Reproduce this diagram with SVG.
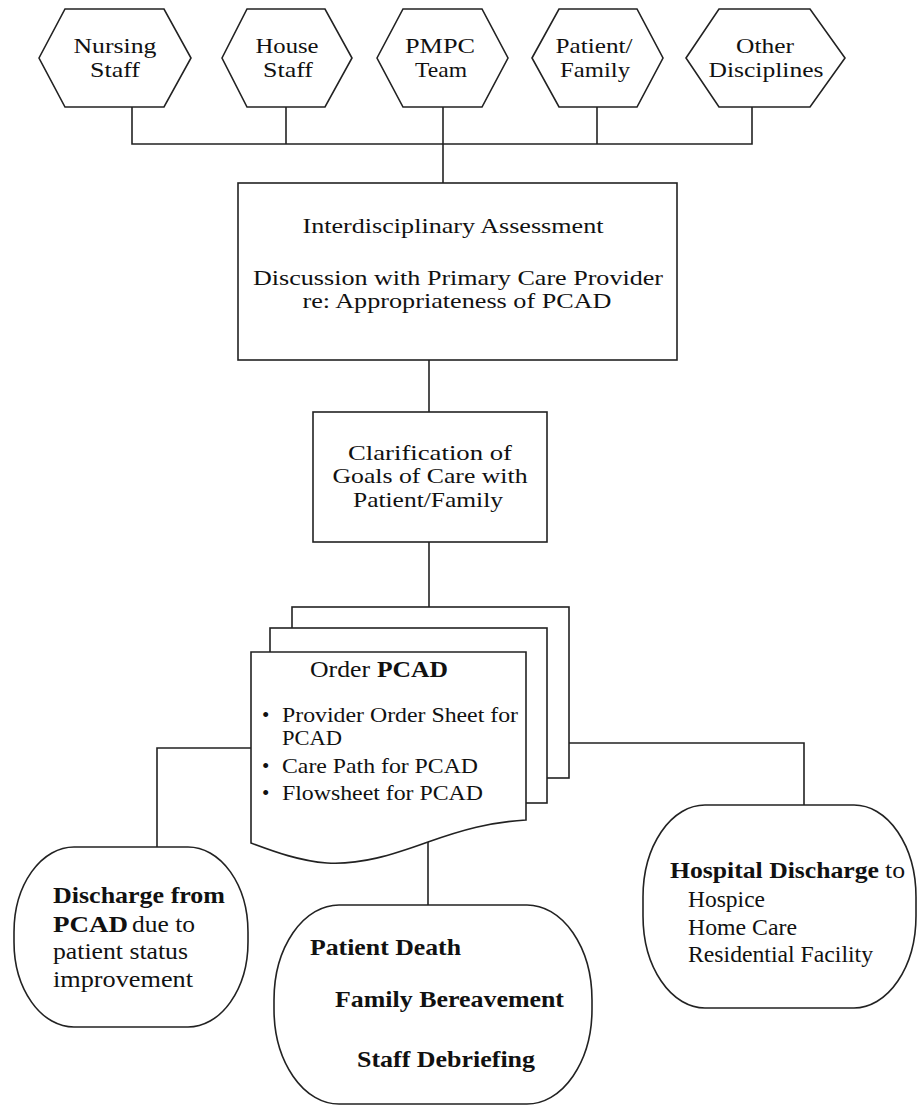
<svg xmlns="http://www.w3.org/2000/svg" width="917" height="1106" viewBox="0 0 917 1106">
<style>
.s{fill:#fff;stroke:#222;stroke-width:1.6}
.c{fill:none;stroke:#222;stroke-width:1.6}
text{font-family:"Liberation Serif","Times New Roman",serif;font-size:21px;fill:#111}
.m{text-anchor:middle}
.b{font-weight:bold}
.l{font-size:24px}
</style>
<rect width="917" height="1106" fill="#fff"/>
<g id="connectors">
<polyline class="c" points="132,107 132,144 752,144 752,107"/>
<line class="c" x1="286" y1="107" x2="286" y2="144"/>
<line class="c" x1="597" y1="107" x2="597" y2="144"/>
<line class="c" x1="443" y1="107" x2="443" y2="183"/>
<line class="c" x1="429" y1="360" x2="429" y2="412"/>
<line class="c" x1="429" y1="542" x2="429" y2="607"/>
<polyline class="c" points="251,748 157,748 157,847"/>
<polyline class="c" points="569,743 804,743 804,805"/>
<line class="c" x1="428" y1="842" x2="428" y2="905"/>
</g>
<g id="nursing">
<polygon class="s" points="39,58 65,9 164,9 191,58 164,107 65,107"/>
<text class="m" x="115" y="53" textLength="83" lengthAdjust="spacingAndGlyphs">Nursing</text>
<text class="m" x="115" y="77" textLength="50" lengthAdjust="spacingAndGlyphs">Staff</text>
</g>
<g id="house">
<polygon class="s" points="222,58 247,9 325,9 352,58 325,107 247,107"/>
<text class="m" x="287" y="53" textLength="63" lengthAdjust="spacingAndGlyphs">House</text>
<text class="m" x="288" y="77" textLength="50" lengthAdjust="spacingAndGlyphs">Staff</text>
</g>
<g id="pmpc">
<polygon class="s" points="377,58 403,9 482,9 508,58 482,107 403,107"/>
<text class="m" x="440" y="53" textLength="70" lengthAdjust="spacingAndGlyphs">PMPC</text>
<text class="m" x="441" y="77" textLength="52" lengthAdjust="spacingAndGlyphs">Team</text>
</g>
<g id="patientfamily">
<polygon class="s" points="532,58 559,9 637,9 663,58 637,107 559,107"/>
<text class="m" x="594" y="53" textLength="77" lengthAdjust="spacingAndGlyphs">Patient/</text>
<text class="m" x="595" y="77" textLength="70" lengthAdjust="spacingAndGlyphs">Family</text>
</g>
<g id="other">
<polygon class="s" points="686,58 719,9 810,9 845,58 810,107 719,107"/>
<text class="m" x="765" y="53" textLength="58" lengthAdjust="spacingAndGlyphs">Other</text>
<text class="m" x="766" y="77" textLength="115" lengthAdjust="spacingAndGlyphs">Disciplines</text>
</g>
<g id="assessment">
<rect class="s" x="238" y="183" width="439" height="177"/>
<text class="m" x="453" y="233" textLength="301" lengthAdjust="spacingAndGlyphs">Interdisciplinary Assessment</text>
<text class="m" x="458" y="285" textLength="410" lengthAdjust="spacingAndGlyphs">Discussion with Primary Care Provider</text>
<text class="m" x="457" y="308" textLength="309" lengthAdjust="spacingAndGlyphs">re: Appropriateness of PCAD</text>
</g>
<g id="clarification">
<rect class="s" x="313" y="412" width="234" height="130"/>
<text class="m" x="430" y="460" textLength="164" lengthAdjust="spacingAndGlyphs">Clarification of</text>
<text class="m" x="430" y="483" textLength="195" lengthAdjust="spacingAndGlyphs">Goals of Care with</text>
<text class="m" x="428" y="507" textLength="150" lengthAdjust="spacingAndGlyphs">Patient/Family</text>
</g>
<g id="order">
<rect class="s" x="292" y="607" width="277" height="171"/>
<rect class="s" x="270" y="628" width="277" height="175"/>
<path class="s" d="M251,652 L526,652 L526,820 C490,822 462,830 428,842 C392,855 360,865 327,863 C300,861 275,852 251,843 Z"/>
<text class="l" y="677"><tspan x="310" textLength="60" lengthAdjust="spacingAndGlyphs">Order</tspan> <tspan class="b" x="377" textLength="71" lengthAdjust="spacingAndGlyphs">PCAD</tspan></text>
<text x="262" y="722">•</text>
<text x="282" y="722" textLength="236" lengthAdjust="spacingAndGlyphs">Provider Order Sheet for</text>
<text x="282" y="745" textLength="60" lengthAdjust="spacingAndGlyphs">PCAD</text>
<text x="262" y="773">•</text>
<text x="282" y="773" textLength="196" lengthAdjust="spacingAndGlyphs">Care Path for PCAD</text>
<text x="262" y="800">•</text>
<text x="282" y="800" textLength="201" lengthAdjust="spacingAndGlyphs">Flowsheet for PCAD</text>
</g>
<g id="dischargepcad">
<rect class="s" x="14" y="847" width="234" height="180" rx="60" ry="85"/>
<text x="53" y="903" class="b l" textLength="172" lengthAdjust="spacingAndGlyphs">Discharge from</text>
<text class="l" y="932"><tspan class="b" x="53" textLength="75" lengthAdjust="spacingAndGlyphs">PCAD</tspan> <tspan x="132" textLength="63" lengthAdjust="spacingAndGlyphs">due to</tspan></text>
<text class="l" x="53" y="959" textLength="135" lengthAdjust="spacingAndGlyphs">patient status</text>
<text class="l" x="53" y="987" textLength="140" lengthAdjust="spacingAndGlyphs">improvement</text>
</g>
<g id="death">
<rect class="s" x="274" y="905" width="318" height="199" rx="65" ry="95"/>
<text x="310" y="955" class="b l" textLength="151" lengthAdjust="spacingAndGlyphs">Patient Death</text>
<text x="335" y="1007" class="b l" textLength="229" lengthAdjust="spacingAndGlyphs">Family Bereavement</text>
<text x="357" y="1067" class="b l" textLength="178" lengthAdjust="spacingAndGlyphs">Staff Debriefing</text>
</g>
<g id="hospital">
<rect class="s" x="643" y="805" width="273" height="203" rx="62" ry="92"/>
<text class="l" y="878"><tspan class="b" x="670" textLength="209" lengthAdjust="spacingAndGlyphs">Hospital Discharge</tspan> <tspan x="885" textLength="20" lengthAdjust="spacingAndGlyphs">to</tspan></text>
<text class="l" x="688" y="907" textLength="77" lengthAdjust="spacingAndGlyphs">Hospice</text>
<text class="l" x="688" y="935" textLength="109" lengthAdjust="spacingAndGlyphs">Home Care</text>
<text class="l" x="688" y="962" textLength="185" lengthAdjust="spacingAndGlyphs">Residential Facility</text>
</g>
</svg>
